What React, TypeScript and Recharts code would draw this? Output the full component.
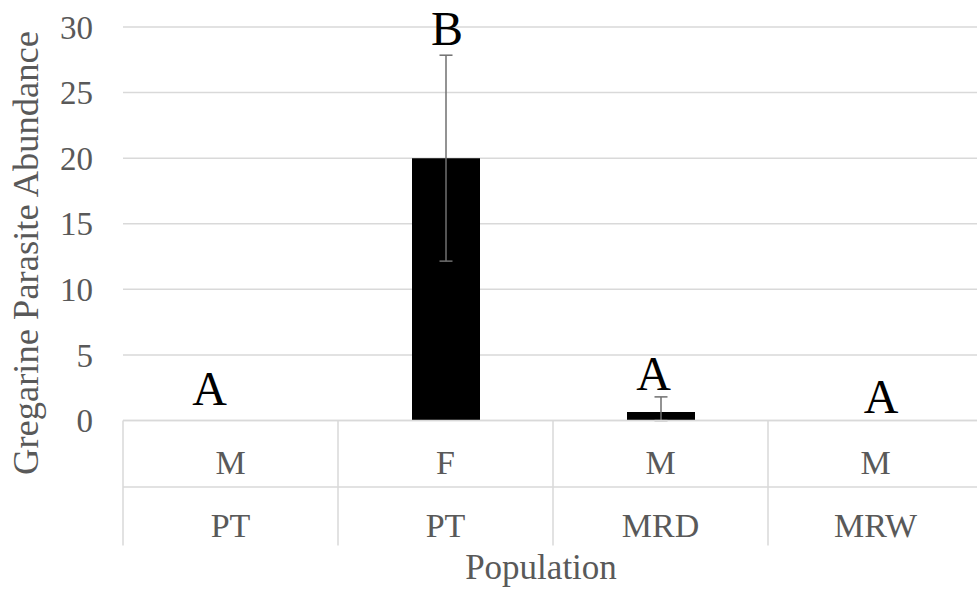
import React from 'react';
import { ComposedChart, Bar, XAxis, YAxis, CartesianGrid, ErrorBar, Scatter, Label } from 'recharts';

// ---- data ----
const sexes = ['M', 'F', 'M', 'M'];
const populations = ['PT', 'PT', 'MRD', 'MRW'];
const abundance = [0, 20, 0.65, 0];
const errLow = [0, 7.85, 0.65, 0];
const errHigh = [0, 7.85, 1.15, 0];
const letters = ['A', 'B', 'A', 'A'];
const letterLevel = [1.2, 28.6, 2.3, 0.55];
const yTicks = [0, 5, 10, 15, 20, 25, 30];

const data = sexes.map((s, i) => ({
  id: `${s}-${populations[i]}`,
  sex: s,
  pop: populations[i],
  value: abundance[i],
  err: errLow[i] === 0 && errHigh[i] === 0 ? null : [errLow[i], errHigh[i]],
  letter: letters[i],
  letterY: letterLevel[i],
}));

// ---- layout / style ----
const CHART_W = 983;
const CHART_H = 592;
const Y_AXIS_W = 123;
const TOP = 27;
const X_AXIS_H = 171.5;
const BAND = (CHART_W - Y_AXIS_W) / sexes.length;
const FONT = '"Liberation Serif", "Times New Roman", serif';
const TEXT_GRAY = '#595959';
const LINE_GRAY = '#d9d9d9';
const letterShift = [-21, 1.5, -7, 5.5];

const CategoryTick = (props: any) => {
  const { x, y, index } = props;
  const left = x - BAND / 2;
  return (
    <g>
      <line x1={left} y1={y} x2={left} y2={y + 125} stroke={LINE_GRAY} strokeWidth={1.5} />
      <line x1={left} y1={y + 66.5} x2={left + BAND} y2={y + 66.5} stroke={LINE_GRAY} strokeWidth={1.5} />
      <text x={x} y={y + 53.5} textAnchor="middle" fill={TEXT_GRAY} fontFamily={FONT} fontSize={34}>
        {sexes[index]}
      </text>
      <text x={x} y={y + 116.5} textAnchor="middle" fill={TEXT_GRAY} fontFamily={FONT} fontSize={34}>
        {populations[index]}
      </text>
    </g>
  );
};

const LetterShape = (props: any) => {
  const { cx, cy, payload, index } = props;
  return (
    <text x={cx + letterShift[index]} y={cy} textAnchor="middle" fill="#000" fontFamily={FONT} fontSize={48}>
      {payload.letter}
    </text>
  );
};

export default function App() {
  return (
    <div style={{ position: 'absolute', left: 0, top: 0, width: 977, height: 592, overflow: 'hidden', background: '#fff' }}>
      <ComposedChart
        width={CHART_W}
        height={CHART_H}
        data={data}
        margin={{ top: TOP, right: 0, bottom: 0, left: 0 }}
        barSize={68}
      >
        <CartesianGrid vertical={false} stroke={LINE_GRAY} strokeWidth={1.5} />
        <XAxis
          dataKey="id"
          height={X_AXIS_H}
          axisLine={{ stroke: LINE_GRAY, strokeWidth: 1.5 }}
          tickLine={false}
          tickSize={0}
          tickMargin={0}
          interval={0}
          tick={(p: any) => <CategoryTick {...p} />}
        >
          <Label
            content={() => (
              <text x={541} y={579} textAnchor="middle" fill={TEXT_GRAY} fontFamily={FONT} fontSize={35}>
                Population
              </text>
            )}
          />
        </XAxis>
        <YAxis
          width={Y_AXIS_W}
          domain={[0, 30]}
          ticks={yTicks}
          interval={0}
          axisLine={false}
          tickLine={false}
          tickSize={0}
          tickMargin={30}
          tick={{ fill: TEXT_GRAY, fontFamily: FONT, fontSize: 33 }}
        >
          <Label
            content={() => (
              <text
                x={38}
                y={253}
                transform="rotate(-90 38 253)"
                textAnchor="middle"
                fill={TEXT_GRAY}
                fontFamily={FONT}
                fontSize={36.5}
              >
                Gregarine Parasite Abundance
              </text>
            )}
          />
        </YAxis>
        <Bar dataKey="value" fill="#000" isAnimationActive={false}>
          <ErrorBar dataKey="err" direction="y" width={6.5} stroke="#6f6f6f" strokeWidth={1.5} />
        </Bar>
        <Scatter dataKey="letterY" isAnimationActive={false} shape={(p: any) => <LetterShape {...p} />} />
      </ComposedChart>
    </div>
  );
}
